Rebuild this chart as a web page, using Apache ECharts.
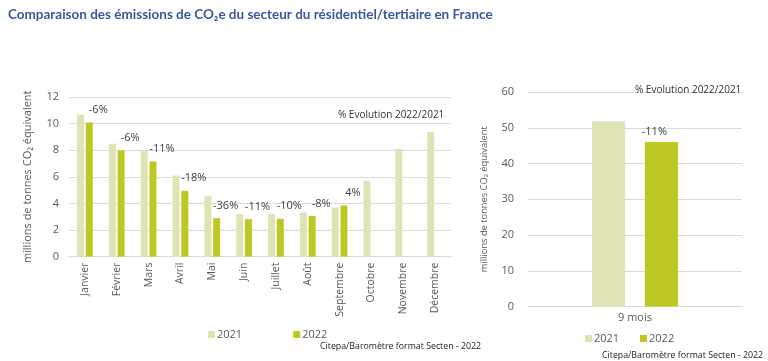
<!DOCTYPE html>
<html><head><meta charset="utf-8">
<script src="https://cdn.jsdelivr.net/npm/echarts@6/dist/echarts.min.js"></script>
<style>html,body{margin:0;padding:0;background:#fff;}#c{width:768px;height:361px;}</style>
</head><body><div id="c"></div>
<script>
const months = ['Janvier','Février','Mars','Avril','Mai','Juin','Juillet','Août','Septembre','Octobre','Novembre','Décembre'];
const v2021 = [10.67, 8.49, 8.0, 6.1, 4.57, 3.2, 3.2, 3.31, 3.69, 5.7, 8.11, 9.37];
const v2022 = [10.09, 7.98, 7.15, 4.95, 2.89, 2.82, 2.84, 3.06, 3.84, null, null, null];
const pct = ['-6%','-6%','-11%','-18%','-36%','-11%','-10%','-8%','4%','','',''];
const totalCat = ['9 mois'];
const total2021 = [51.8];
const total2022 = [46.0];
const totalPct = ['-11%'];
const yTicksLeft = {min:0, max:12, interval:2};
const yTicksRight = {min:0, max:60, interval:10};

const C21 = '#e0e4b5', C22 = '#bec823';
const FONT = 'Open Sans';
const gray = '#595959';
const chart = echarts.init(document.getElementById('c'), null, {renderer:'canvas'});
const axisNameTxt = 'millions de tonnes CO₂ équivalent';
chart.setOption({
  animation:false,
  textStyle:{fontFamily:FONT},
  title:[
    {text:'Comparaison des émissions de CO₂e du secteur du résidentiel/tertiaire en France', left:3, top:3,
     textStyle:{fontFamily:'Lato', fontSize:13.5, fontWeight:'bold', color:'#3a57a0'}},
    {text:'% Evolution 2022/2021', left:333, top:105, textStyle:{fontFamily:FONT, fontSize:10, fontWeight:'normal', color:'#333'}},
    {text:'% Evolution 2022/2021', left:630, top:80, textStyle:{fontFamily:FONT, fontSize:10, fontWeight:'normal', color:'#333'}},
    {text:'Citepa/Baromètre format Secten - 2022', left:315, top:337, textStyle:{fontFamily:FONT, fontSize:8.8, fontWeight:'normal', color:'#222'}},
    {text:'Citepa/Baromètre format Secten - 2022', left:597, top:346, textStyle:{fontFamily:FONT, fontSize:8.8, fontWeight:'normal', color:'#222'}}
  ],
  legend:[
    {data:['2021','2022'], left:203, top:324, itemWidth:7, itemHeight:7, itemGap:51, icon:'rect',
     textStyle:{fontSize:11, color:gray, padding:[0,0,0,-3]}},
    {data:['2021 ','2022 '], left:580, top:328, itemWidth:7, itemHeight:7, itemGap:18, icon:'rect',
     textStyle:{fontSize:11, color:gray, padding:[0,0,0,-3]}}
  ],
  grid:[
    {left:69, top:97, width:382, height:159.6},
    {left:528, top:92, width:214, height:214.5}
  ],
  xAxis:[
    {type:'category', gridIndex:0, data:months, axisTick:{show:false},
     axisLine:{lineStyle:{color:'#d9d9d9'}},
     axisLabel:{rotate:90, color:gray, fontSize:10.5, margin:6, interval:0}},
    {type:'category', gridIndex:1, data:totalCat, axisTick:{show:false},
     axisLine:{lineStyle:{color:'#d9d9d9'}},
     axisLabel:{color:gray, fontSize:11, margin:6}}
  ],
  yAxis:[
    {type:'value', gridIndex:0, min:yTicksLeft.min, max:yTicksLeft.max, interval:yTicksLeft.interval,
     name:axisNameTxt, nameLocation:'middle', nameGap:36, nameTextStyle:{color:gray, fontSize:11},
     axisLabel:{color:gray, fontSize:11, margin:10}, splitLine:{lineStyle:{color:'#d9d9d9'}}},
    {type:'value', gridIndex:1, min:yTicksRight.min, max:yTicksRight.max, interval:yTicksRight.interval,
     name:axisNameTxt, nameLocation:'middle', nameGap:39, nameTextStyle:{color:gray, fontSize:9.3},
     axisLabel:{color:gray, fontSize:11, margin:14}, splitLine:{lineStyle:{color:'#d9d9d9'}}}
  ],
  series:[
    {name:'2021', type:'bar', xAxisIndex:0, yAxisIndex:0, data:v2021, barWidth:7, barGap:'25%', itemStyle:{color:C21}},
    {name:'2022', type:'bar', xAxisIndex:0, yAxisIndex:0, data:v2022, barWidth:7, itemStyle:{color:C22},
     label:{show:true, position:'top', offset:[9,-2], color:'#404040', fontSize:11,
       formatter:p=>pct[p.dataIndex]}},
    {name:'2021 ', type:'bar', xAxisIndex:1, yAxisIndex:1, data:total2021, barWidth:33, barGap:'60%', itemStyle:{color:C21}},
    {name:'2022 ', type:'bar', xAxisIndex:1, yAxisIndex:1, data:total2022, barWidth:33, itemStyle:{color:C22},
     label:{show:true, position:'top', offset:[-7,0], color:'#404040', fontSize:11,
       formatter:p=>totalPct[p.dataIndex]}}
  ]
});
</script></body></html>
